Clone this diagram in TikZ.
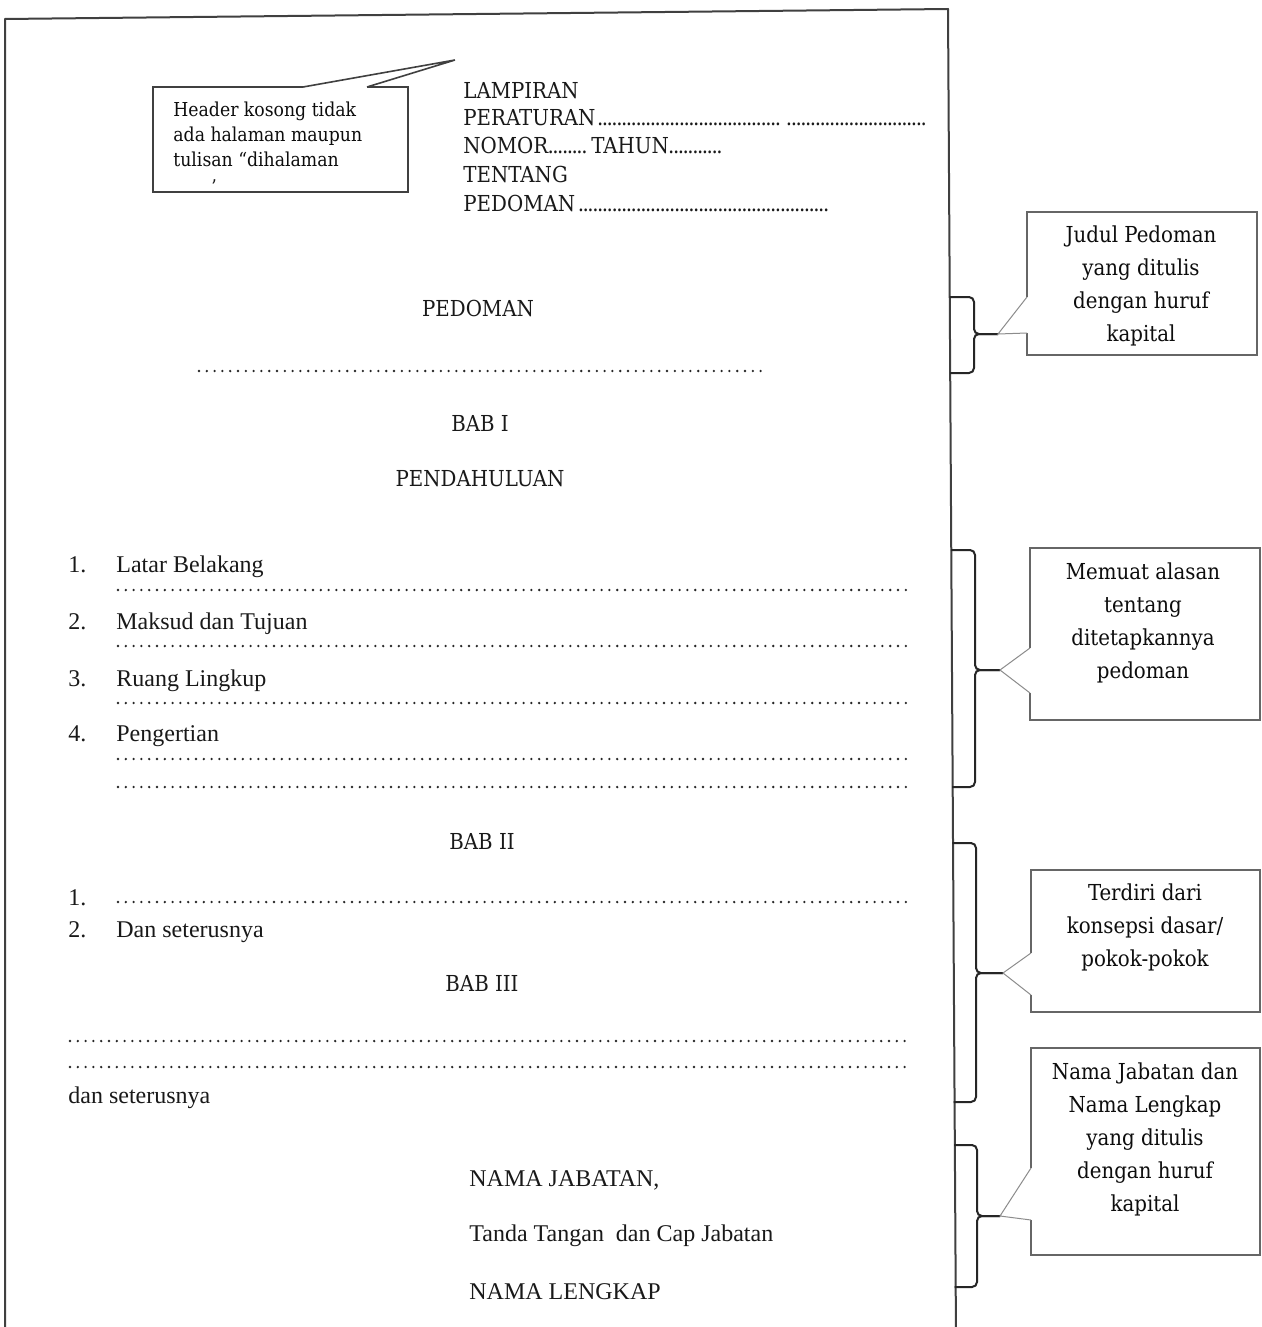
\documentclass[tikz,border=0pt]{standalone}
\usepackage{fontspec}
\setmainfont{Liberation Serif}
\newfontfamily\camb{DejaVu Serif Condensed}
\newlength\pxu \setlength\pxu{0.5pt}
% leader dots after the header captions
\newcommand\headdots{\leaders\hbox to 2.4pt{\hss.\hss}\hfill}

\tikzset{
  pagefr/.style={draw=black!75, line width=1pt, line join=round},
  brace/.style={draw=black!85, line width=1pt, rounded corners=2.5pt},
  callfr/.style={draw=black!60, line width=0.7pt},
  callptr/.style={draw=black!45, line width=0.5pt},
  dotline/.style={draw=black!85, line width=1.3pt, line cap=round,
                  dash pattern=on 0pt off 3.9pt},
  lbl/.style={inner sep=0pt, anchor=base west, text=black!90},
  hdr/.style={lbl, font=\camb\fontsize{11}{13}\selectfont, text=black!90},
  ttl/.style={inner sep=0pt, anchor=base, font=\camb\fontsize{11}{13}\selectfont, text=black!90},
  body/.style={lbl, font=\fontsize{12}{14}\selectfont},
  note/.style={align=center, inner sep=0pt, text=black!95,
               font=\camb\fontsize{11}{16.5}\selectfont},
}

\begin{document}
\begin{tikzpicture}[x=0.5pt, y=-0.5pt]
\useasboundingbox (0,0) rectangle (1262,1327);
\clip (0,0) rectangle (1262,1327);
\fill[white] (0,0) rectangle (1262,1327);

% the page
\draw[pagefr] (5,19) -- (948,9) -- (956,1340) -- (5,1340) -- cycle;

% header note with its pointer
\coordinate (hdtip) at (455,60);
\draw[callfr, draw=black!75, line width=0.8pt]
  (303,87) -- (153,87) -- (153,192) -- (408,192) -- (408,87) -- (367,87);
\draw[callfr, draw=black!75, line width=0.8pt] (303,87) -- (hdtip) -- (367,87);
\node[inner sep=0pt, anchor=north west, align=left, text=black!95,
      font=\camb\fontsize{9.6}{12.5}\selectfont] (hdnote) at (173,102)
  {Header kosong tidak\\ada halaman maupun\\tulisan “dihalaman};
\node[lbl, font=\camb\fontsize{9.5}{12}\selectfont] (hdq) at (211,193) {’};

% header block
\node[hdr] (lamp) at (463,98) {LAMPIRAN};
\node[hdr] (perat) at (463,126)
  {\makebox[465\pxu][l]{PERATURAN\headdots\hspace{6\pxu}\makebox[142\pxu]{\headdots}}};
\node[hdr] (nomor) at (463,154)
  {NOMOR\makebox[43\pxu]{\headdots}TAHUN\makebox[53\pxu]{\headdots}};
\node[hdr] (tent) at (463,182) {TENTANG};
\node[hdr] (pedh) at (463,211) {\makebox[369\pxu][l]{PEDOMAN\headdots}};

% titles
\node[ttl] (pedt) at (478,316) {PEDOMAN};
\draw[dotline] (199,371) -- (762,371);
\node[ttl] (bab1) at (480,431) {BAB I};
\node[ttl] (pend) at (480,486) {PENDAHULUAN};

% chapter I items
\node[body] (n1) at (68,572) {1.};
\node[body] (i1) at (116,572) {Latar Belakang};
\draw[dotline] (118,590) -- (908,590);
\node[body] (n2) at (68,629) {2.};
\node[body] (i2) at (116,629) {Maksud dan Tujuan};
\draw[dotline] (118,646) -- (908,646);
\node[body] (n3) at (68,686) {3.};
\node[body] (i3) at (116,686) {Ruang Lingkup};
\draw[dotline] (118,703) -- (908,703);
\node[body] (n4) at (68,741) {4.};
\node[body] (i4) at (116,741) {Pengertian};
\draw[dotline] (118,759) -- (908,759);
\draw[dotline] (118,787) -- (908,787);

% chapter II
\node[ttl] (bab2) at (482,849) {BAB II};
\node[body] (m1) at (68,905) {1.};
\draw[dotline] (118,902) -- (908,902);
\node[body] (m2) at (68,937) {2.};
\node[body] (j2) at (116,937) {Dan seterusnya};

% chapter III
\node[ttl] (bab3) at (482,991) {BAB III};
\draw[dotline] (70,1041) -- (910,1041);
\draw[dotline] (70,1067) -- (910,1067);
\node[body] (dst) at (68,1103) {dan seterusnya};

% signature block
\node[body] (jab) at (469,1186) {NAMA JABATAN,};
\node[body] (ttd) at (469,1241) {Tanda Tangan\ \ dan Cap Jabatan};
\node[body] (nl) at (469,1299) {NAMA LENGKAP};

% braces on the right margin
\coordinate (t1) at (998,334);
\coordinate (t2) at (1000,670);
\coordinate (t3) at (1003,973);
\coordinate (t4) at (1000,1216);

\draw[brace] (949.5,297) -- (974,297) -- (974,334) -- (t1);
\draw[brace] (t1) -- (974,334) -- (974,373) -- (950,373);
\draw[brace] (950.8,550) -- (975,550) -- (975,670) -- (t2);
\draw[brace] (t2) -- (975,670) -- (975,787) -- (952,787);
\draw[brace] (952.4,843) -- (976,843) -- (976,973) -- (t3);
\draw[brace] (t3) -- (976,973) -- (976,1102) -- (953.7,1102);
\draw[brace] (954,1145) -- (977,1145) -- (977,1216) -- (t4);
\draw[brace] (t4) -- (977,1216) -- (977,1287) -- (954.7,1287);

% margin notes
\draw[callfr] (1027,297) -- (1027,212) -- (1257,212) -- (1257,355) -- (1027,355) -- (1027,333);
\draw[callptr] (1027,297) -- (t1) -- (1027,333);
\node[note] (c1) at (1141,286) {Judul Pedoman\\yang ditulis\\dengan huruf\\kapital};

\draw[callfr] (1030,648) -- (1030,548) -- (1260,548) -- (1260,720) -- (1030,720) -- (1030,693);
\draw[callptr] (1030,648) -- (t2) -- (1030,693);
\node[note] (c2) at (1143,623) {Memuat alasan\\tentang\\ditetapkannya\\pedoman};

\draw[callfr] (1031,953) -- (1031,870) -- (1260,870) -- (1260,1012) -- (1031,1012) -- (1031,995);
\draw[callptr] (1031,953) -- (t3) -- (1031,995);
\node[note] (c3) at (1145,927) {Terdiri dari\\konsepsi dasar/\\pokok-pokok};

\draw[callfr] (1031,1168) -- (1031,1048) -- (1260,1048) -- (1260,1255) -- (1031,1255) -- (1031,1220);
\draw[callptr] (1031,1168) -- (t4) -- (1031,1220);
\node[note] (c4) at (1145,1139) {Nama Jabatan dan\\Nama Lengkap\\yang ditulis\\dengan huruf\\kapital};
\end{tikzpicture}
\end{document}
